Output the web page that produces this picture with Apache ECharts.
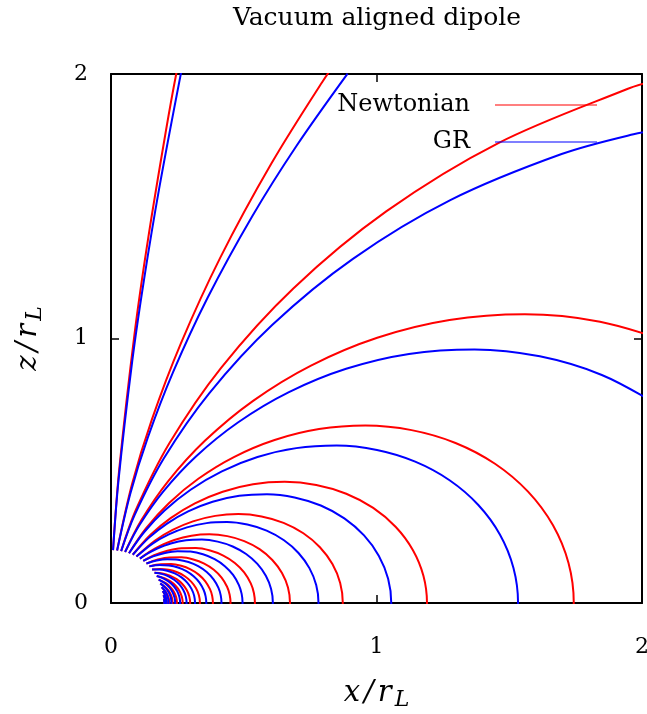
<!DOCTYPE html>
<html>
<head>
<meta charset="utf-8">
<script src="https://cdn.jsdelivr.net/npm/echarts@6/dist/echarts.min.js"></script>
<style>html,body{margin:0;padding:0;background:#fff;}#c{width:647px;height:714px;}</style>
</head>
<body>
<div id="c"></div>
<script>
// Axis ticks
const xTicks = [0, 1, 2];
const zTicks = [0, 1, 2];
const legendNames = ['Newtonian', 'GR'];

// Newtonian field lines, [x/r_L, z/r_L] (closed loops carry one point just past the equator)
const N0 = [[0.0077,0.1999],[0.0309,0.5048],[0.0898,1.0268],[0.1400,1.3787],[0.2061,1.7808],[0.2456,2.0002],[0.3658,2.6025]];
const N1 = [[0.0230,0.1987],[0.0793,0.4496],[0.1535,0.6924],[0.2625,0.9796],[0.4116,1.3056],[0.6057,1.6641],[0.7958,1.9698],[0.9031,2.1275]];
const N2 = [[0.0382,0.1963],[0.0952,0.3554],[0.2198,0.6038],[0.4147,0.8892],[0.6867,1.1893],[1.0366,1.4804],[1.4589,1.7387],[1.9422,1.9422],[2.0447,1.9746]];
const N3 = [[0.0531,0.1928],[0.1135,0.3117],[0.2141,0.4591],[0.3545,0.6140],[0.5352,0.7643],[0.7532,0.8976],[1.0027,1.0027],[1.2749,1.0698],[1.5588,1.0915],[1.8420,1.0635],[2.1112,0.9845]];
const N4 = [[0.0678,0.1882],[0.1316,0.2821],[0.2179,0.3774],[0.3289,0.4697],[0.4629,0.5517],[0.6162,0.6162],[0.7835,0.6575],[0.9581,0.6709],[1.1321,0.6536],[1.2976,0.6051],[1.4463,0.5264],[1.5708,0.4209],[1.6648,0.2936],[1.7232,0.1508],[1.7430,0],[1.7232,-0.1508]];
const N5 = [[0.0820,0.1824],[0.1488,0.2577],[0.2246,0.3208],[0.3161,0.3767],[0.4208,0.4208],[0.5351,0.4490],[0.6542,0.4581],[0.7731,0.4463],[0.8861,0.4132],[0.9876,0.3595],[1.0727,0.2874],[1.1368,0.2005],[1.1767,0.1030],[1.1902,0],[1.1767,-0.1030]];
const N6 = [[0.0957,0.1756],[0.1648,0.2353],[0.2319,0.2764],[0.3087,0.3087],[0.3925,0.3294],[0.4799,0.3361],[0.5671,0.3274],[0.6500,0.3031],[0.7245,0.2637],[0.7869,0.2109],[0.8340,0.1471],[0.8632,0.0755],[0.8731,0],[0.8632,-0.0755]];
const N7 = [[0.1089,0.1677],[0.1419,0.1918],[0.1791,0.2134],[0.2384,0.2384],[0.3031,0.2543],[0.3706,0.2595],[0.4379,0.2528],[0.5019,0.2341],[0.5595,0.2036],[0.6076,0.1628],[0.6440,0.1136],[0.6666,0.0583],[0.6742,0],[0.6666,-0.0583]];
const N8 = [[0.1215,0.1589],[0.1624,0.1804],[0.2121,0.1978],[0.2653,0.2073],[0.3198,0.2077],[0.3732,0.1984],[0.4229,0.1795],[0.4664,0.1515],[0.5015,0.1158],[0.5265,0.0740],[0.5382,0.0376],[0.5421,0],[0.5382,-0.0376]];
const N9 = [[0.1333,0.1491],[0.1761,0.1642],[0.2203,0.1721],[0.2656,0.1725],[0.3099,0.1648],[0.3511,0.1491],[0.3873,0.1258],[0.4165,0.0962],[0.4372,0.0614],[0.4469,0.0313],[0.4502,0],[0.4469,-0.0313]];
const N10 = [[0.1444,0.1384],[0.1879,0.1468],[0.2265,0.1471],[0.2643,0.1405],[0.2995,0.1271],[0.3303,0.1073],[0.3552,0.0820],[0.3728,0.0524],[0.3811,0.0267],[0.3839,0],[0.3811,-0.0267]];
const N11 = [[0.1546,0.1270],[0.1841,0.1289],[0.2176,0.1256],[0.2494,0.1163],[0.2779,0.1012],[0.3019,0.0809],[0.3199,0.0564],[0.3311,0.0290],[0.3350,0],[0.3311,-0.0290]];
const N12 = [[0.1638,0.1147],[0.1936,0.1118],[0.2219,0.1035],[0.2473,0.0900],[0.2686,0.0720],[0.2847,0.0502],[0.2947,0.0258],[0.2981,0],[0.2947,-0.0258]];
const N13 = [[0.1722,0.1018],[0.2010,0.0937],[0.2240,0.0815],[0.2433,0.0652],[0.2578,0.0455],[0.2669,0.0234],[0.2700,0],[0.2669,-0.0234]];
const N14 = [[0.1795,0.0883],[0.2061,0.0750],[0.2239,0.0600],[0.2373,0.0418],[0.2456,0.0215],[0.2484,0],[0.2456,-0.0215]];
const N15 = [[0.1857,0.0743],[0.2091,0.0560],[0.2216,0.0391],[0.2294,0.0201],[0.2320,0],[0.2294,-0.0201]];
const N16 = [[0.1909,0.0598],[0.2032,0.0469],[0.2123,0.0321],[0.2179,0.0160],[0.2196,0],[0.2179,-0.0160]];
const N17 = [[0.1949,0.0450],[0.2036,0.0308],[0.2090,0.0154],[0.2107,0],[0.2090,-0.0154]];
const N18 = [[0.1978,0.0299],[0.2029,0.0149],[0.2046,0],[0.2029,-0.0149]];
const N19 = [[0.1995,0.0147],[0.2011,0],[0.1995,-0.0147]];

// GR field lines, [x/r_L, z/r_L]
const G0 = [[0.0077,0.1999],[0.0283,0.4633],[0.0800,0.9143],[0.1237,1.2182],[0.1812,1.5656],[0.2643,2.0073]];
const G1 = [[0.0230,0.1987],[0.0732,0.4152],[0.1385,0.6248],[0.2338,0.8726],[0.3638,1.1540],[0.5326,1.4634],[0.6978,1.7271],[0.8912,2.0017]];
const G2 = [[0.0382,0.1963],[0.0893,0.3334],[0.1992,0.5473],[0.3698,0.7929],[0.6069,1.0511],[0.9112,1.3013],[1.2780,1.5231],[1.6973,1.6973],[1.9681,1.7721],[2.1544,1.8078]];
const G3 = [[0.0531,0.1928],[0.1073,0.2949],[0.1965,0.4213],[0.3199,0.5541],[0.4780,0.6826],[0.6683,0.7964],[0.8856,0.8856],[1.1223,0.9418],[1.3691,0.9587],[1.6151,0.9325],[1.8487,0.8621],[2.0588,0.7493]];
const G4 = [[0.0678,0.1882],[0.1252,0.2684],[0.2018,0.3496],[0.2998,0.4281],[0.4175,0.4975],[0.5517,0.5517],[0.6978,0.5855],[0.8500,0.5952],[1.0017,0.5783],[1.1457,0.5343],[1.2752,0.4641],[1.3835,0.3707],[1.4652,0.2584],[1.5159,0.1326],[1.5332,0],[1.5159,-0.1326]];
const G5 = [[0.0820,0.1824],[0.1422,0.2462],[0.2097,0.2994],[0.2906,0.3463],[0.3828,0.3828],[0.4831,0.4054],[0.5875,0.4114],[0.6915,0.3992],[0.7902,0.3685],[0.8789,0.3199],[0.9531,0.2554],[1.0090,0.1779],[1.0438,0.0913],[1.0556,0],[1.0438,-0.0913]];
const G6 = [[0.0957,0.1756],[0.1580,0.2256],[0.2178,0.2596],[0.2860,0.2860],[0.3600,0.3020],[0.4369,0.3060],[0.5135,0.2965],[0.5862,0.2734],[0.6515,0.2371],[0.7062,0.1892],[0.7473,0.1318],[0.7729,0.0676],[0.7816,0],[0.7729,-0.0676]];
const G7 = [[0.1089,0.1677],[0.1388,0.1876],[0.1722,0.2052],[0.2252,0.2252],[0.2827,0.2372],[0.3425,0.2398],[0.4019,0.2321],[0.4583,0.2137],[0.5089,0.1852],[0.5513,0.1477],[0.5832,0.1028],[0.6030,0.0528],[0.6097,0],[0.6030,-0.0528]];
const G8 = [[0.1215,0.1589],[0.1585,0.1761],[0.2031,0.1894],[0.2506,0.1958],[0.2991,0.1943],[0.3464,0.1842],[0.3904,0.1657],[0.4288,0.1393],[0.4598,0.1062],[0.4818,0.0677],[0.4921,0.0344],[0.4956,0],[0.4921,-0.0344]];
const G9 = [[0.1333,0.1491],[0.1721,0.1604],[0.2118,0.1655],[0.2523,0.1638],[0.2918,0.1551],[0.3284,0.1394],[0.3605,0.1171],[0.3863,0.0892],[0.4047,0.0569],[0.4133,0.0289],[0.4162,0],[0.4133,-0.0289]];
const G10 = [[0.1444,0.1384],[0.1838,0.1436],[0.2185,0.1419],[0.2524,0.1342],[0.2838,0.1205],[0.3112,0.1011],[0.3334,0.0770],[0.3491,0.0491],[0.3564,0.0249],[0.3589,0],[0.3564,-0.0249]];
const G11 = [[0.1546,0.1270],[0.1814,0.1270],[0.2115,0.1221],[0.2401,0.1120],[0.2657,0.0967],[0.2871,0.0769],[0.3032,0.0535],[0.3132,0.0274],[0.3166,0],[0.3132,-0.0274]];
const G12 = [[0.1638,0.1147],[0.1908,0.1102],[0.2164,0.1009],[0.2393,0.0871],[0.2584,0.0692],[0.2728,0.0481],[0.2817,0.0247],[0.2847,0],[0.2817,-0.0247]];
const G13 = [[0.1722,0.1018],[0.1983,0.0925],[0.2191,0.0798],[0.2365,0.0634],[0.2496,0.0440],[0.2577,0.0226],[0.2604,0],[0.2577,-0.0226]];
const G14 = [[0.1795,0.0883],[0.2037,0.0741],[0.2197,0.0589],[0.2318,0.0409],[0.2393,0.0209],[0.2418,0],[0.2393,-0.0209]];
const G15 = [[0.1857,0.0743],[0.2069,0.0554],[0.2182,0.0385],[0.2253,0.0197],[0.2276,0],[0.2253,-0.0197]];
const G16 = [[0.1909,0.0598],[0.2021,0.0467],[0.2103,0.0318],[0.2154,0.0158],[0.2170,0],[0.2154,-0.0158]];
const G17 = [[0.1949,0.0450],[0.2028,0.0307],[0.2077,0.0153],[0.2092,0],[0.2077,-0.0153]];
const G18 = [[0.1978,0.0299],[0.2025,0.0149],[0.2040,0],[0.2025,-0.0149]];
const G19 = [[0.1995,0.0147],[0.2009,0],[0.1995,-0.0147]];

const newtonianLines = [N0,N1,N2,N3,N4,N5,N6,N7,N8,N9,N10,N11,N12,N13,N14,N15,N16,N17,N18,N19];
const grLines = [G0,G1,G2,G3,G4,G5,G6,G7,G8,G9,G10,G11,G12,G13,G14,G15,G16,G17,G18,G19];

const FONT = 'DejaVu Serif';
const RED = '#ff0000';
const BLUE = '#0000ff';

function mkSeries(name, color, data) {
  return {
    type: 'line', name: name, data: data, smooth: 0.33, showSymbol: false, symbol: 'none',
    lineStyle: { color: color, width: 2 }, itemStyle: { color: color },
    clip: true, silent: true, xAxisIndex: 0, yAxisIndex: 0
  };
}
const series = [];
newtonianLines.forEach(d => series.push(mkSeries(legendNames[0], RED, d)));
grLines.forEach(d => series.push(mkSeries(legendNames[1], BLUE, d)));

const axisLineStyle = { color: '#000', width: 2 };
const tickStyle = { show: true, inside: true, length: 8, lineStyle: { color: '#000', width: 1.5 } };
const labelStyle = { fontFamily: FONT, fontSize: 22, color: '#000' };
const nameRich = {
  a: { fontFamily: FONT, fontStyle: 'italic', fontSize: 29, color: '#000' },
  s: { fontFamily: FONT, fontStyle: 'italic', fontSize: 29, color: '#000', padding: [0, 4, 0, 4] },
  b: { fontFamily: FONT, fontStyle: 'italic', fontSize: 22, color: '#000', padding: [13, 0, 0, 3] }
};

const chart = echarts.init(document.getElementById('c'), null, { renderer: 'canvas' });
chart.setOption({
  animation: false,
  backgroundColor: '#fff',
  title: {
    text: 'Vacuum aligned dipole', left: 372, top: 1, textAlign: 'center',
    textStyle: { fontFamily: FONT, fontSize: 25, fontWeight: 'normal', color: '#000' }
  },
  legend: {
    data: legendNames, orient: 'vertical', align: 'right', right: 45, top: 88, padding: 5,
    icon: 'rect', itemWidth: 102, itemHeight: 1.2, itemGap: 13, selectedMode: false,
    textStyle: { fontFamily: FONT, fontSize: 24, color: '#000', padding: [0, 20, 0, 0] }
  },
  grid: { left: 111, right: 5, top: 74, bottom: 111, containLabel: false, outerBoundsMode: 'none' },
  xAxis: [
    { type: 'value', min: xTicks[0], max: xTicks[xTicks.length - 1], interval: 1, position: 'bottom',
      axisLine: { show: true, onZero: false, lineStyle: axisLineStyle }, axisTick: tickStyle,
      axisLabel: Object.assign({ margin: 33 }, labelStyle), splitLine: { show: false },
      name: '{a|x}{s|/}{a|r}{b|L}', nameLocation: 'middle', nameGap: 73, nameTextStyle: { rich: nameRich } },
    { type: 'value', min: xTicks[0], max: xTicks[xTicks.length - 1], interval: 1, position: 'top',
      axisLine: { show: true, onZero: false, lineStyle: axisLineStyle }, axisTick: tickStyle,
      axisLabel: { show: false }, splitLine: { show: false } }
  ],
  yAxis: [
    { type: 'value', min: zTicks[0], max: zTicks[zTicks.length - 1], interval: 1, position: 'left',
      axisLine: { show: true, onZero: false, lineStyle: axisLineStyle }, axisTick: tickStyle,
      axisLabel: Object.assign({ margin: 23 }, labelStyle), splitLine: { show: false },
      name: '{a|z}{s|/}{a|r}{b|L}', nameLocation: 'middle', nameGap: 65, nameTextStyle: { rich: nameRich } },
    { type: 'value', min: zTicks[0], max: zTicks[zTicks.length - 1], interval: 1, position: 'right',
      axisLine: { show: true, onZero: false, lineStyle: axisLineStyle }, axisTick: tickStyle,
      axisLabel: { show: false }, splitLine: { show: false } }
  ],
  series: series
});
</script>
</body>
</html>
